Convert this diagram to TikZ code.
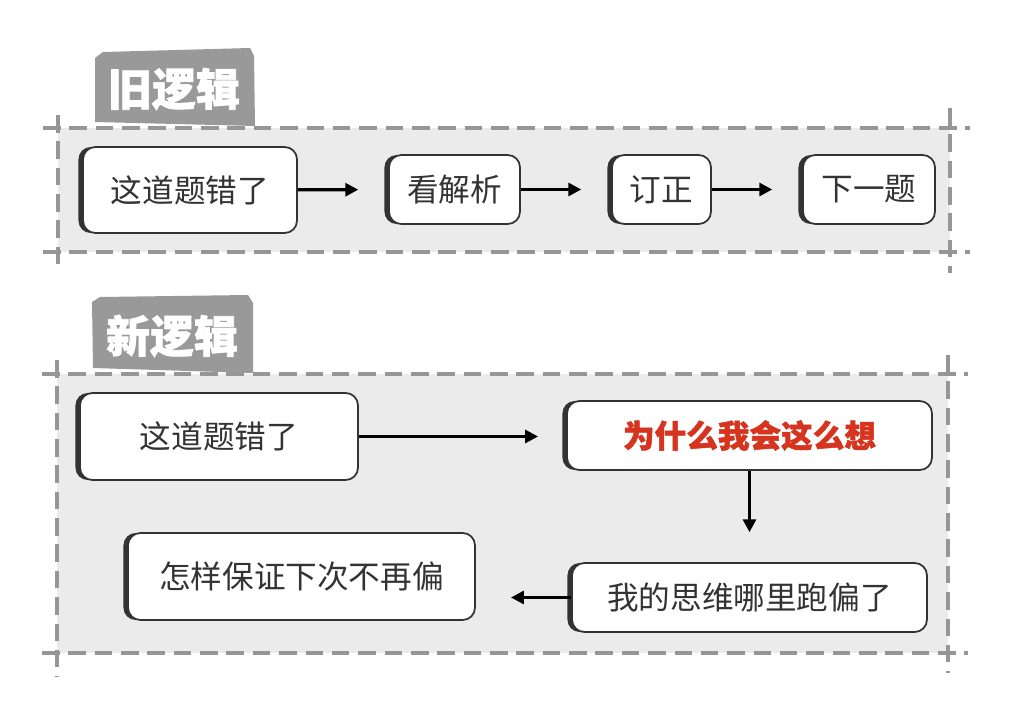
\documentclass[tikz,border=0pt]{standalone}
\usepackage{fontspec}
\setmainfont{Noto Sans CJK SC}
\newfontfamily\heavy[BoldFeatures={FakeBold=1.6}]{Noto Sans CJK SC}
\usetikzlibrary{positioning,arrows.meta,shadows}
\definecolor{pnl}{RGB}{235,235,235}
\definecolor{dsh}{RGB}{150,150,150}
\definecolor{tabc}{RGB}{153,153,153}
\definecolor{hot}{RGB}{214,52,30}
\definecolor{ink}{RGB}{51,51,51}

\begin{document}
\begin{tikzpicture}[x=0.02cm,y=-0.02cm,>={Triangle[length=2.6mm,width=2.6mm]},
  box/.style={draw=ink,line width=1pt,fill=white,rounded corners=7pt,text=ink,
    font=\fontsize{18}{20}\selectfont,inner sep=0pt,
    general shadow={fill=ink,shadow xshift=-2.6pt,shadow yshift=0pt}},
  dashln/.style={dsh,line width=2.3pt,dash pattern=on 10pt off 5pt},
  tabtxt/.style={text=white,font=\fontsize{25}{28}\selectfont\heavy\bfseries},
  arr/.style={->,line width=1.8pt,black}]
  \useasboundingbox (0,0) rectangle (1019,710);
  % panels
  \fill[pnl] (58,128) rectangle (950,252);
  \fill[pnl] (57,374) rectangle (948,653);
  \draw[dashln] (43,128) -- (970,128);
  \draw[dashln] (43,252) -- (970,252);
  \draw[dashln] (58,115) -- (58,270);
  \draw[dashln] (950,108) -- (950,273);
  \draw[dashln] (42,374) -- (968,374);
  \draw[dashln] (42,653) -- (968,653);
  \draw[dashln] (57,360) -- (57,677);
  \draw[dashln] (948,355) -- (948,673);
  % tabs
  \fill[tabc] (95,58) -- (103,52) -- (250,48) -- (254,56) -- (255,126) -- (95,122) -- cycle;
  \node[tabtxt] (oldtab) at (174,89) {旧逻辑};
  \fill[tabc] (92,302) -- (100,297) -- (248,295) -- (253,303) -- (253,373) -- (93,368) -- cycle;
  \node[tabtxt] (newtab) at (172,336) {新逻辑};
  % old logic
  \node[box,minimum width=4.28cm,minimum height=1.72cm] (o1) at (190,190) {这道题错了};
  \node[box,minimum width=2.62cm,minimum height=1.38cm] (o2) at (454.5,189.5) {看解析};
  \node[box,minimum width=1.98cm,minimum height=1.38cm] (o3) at (661.5,189.5) {订正};
  \node[box,minimum width=2.64cm,minimum height=1.38cm] (o4) at (869,189.5) {下一题};
  \draw[arr,shorten >=17pt] (o1) -- (o2);
  \draw[arr,shorten >=17pt] (o2) -- (o3);
  \draw[arr,shorten >=17pt] (o3) -- (o4);
  % new logic
  \node[box,minimum width=5.56cm,minimum height=1.74cm] (n1) at (219,436.5) {这道题错了};
  \node[box,minimum width=7.3cm,minimum height=1.38cm,text=hot,font=\fontsize{18}{20}\selectfont\heavy\bfseries] (n2) at (749.5,435.5) {为什么我会这么想};
  \node[box,minimum width=7.1cm,minimum height=1.38cm] (n3) at (749.5,597.5) {我的思维哪里跑偏了};
  \node[box,minimum width=6.94cm,minimum height=1.74cm] (n4) at (301.5,576.5) {怎样保证下次不再偏};
  \draw[arr,shorten >=16pt] (n1) -- (n2.west |- n1.east);
  \draw[arr,shorten >=17pt] (n2) -- (n3);
  \draw[arr,shorten >=20pt] (n3.west) -- (n4.east |- n3.west);
\end{tikzpicture}
\end{document}
